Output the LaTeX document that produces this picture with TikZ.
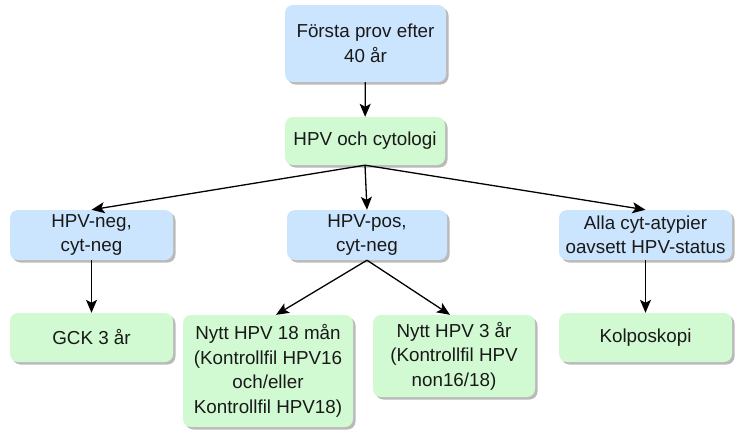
\documentclass[tikz,border=0pt]{standalone}
\usepackage{fontspec}
\setmainfont{Liberation Sans}
\usetikzlibrary{shadows,arrows.meta}
\definecolor{boxblue}{HTML}{CCE5FF}
\definecolor{boxgreen}{HTML}{D2FAD2}
\tikzset{
  box/.style={rounded corners=8pt, align=center, inner sep=2pt,
    font=\fontsize{18.8}{24.5}\selectfont, text=black!90,
    drop shadow={shadow xshift=2.5pt, shadow yshift=-2.5pt, fill=black!45, opacity=0.6}},
  bbox/.style={box, fill=boxblue},
  gbox/.style={box, fill=boxgreen},
  arr/.style={-{Stealth[length=13pt,width=11pt,inset=3pt]}, line width=1.3pt, black},
}
\begin{document}
\begin{tikzpicture}[x=1pt,y=-1pt]
\useasboundingbox (0,0) rectangle (743,445);
\node[bbox, minimum width=161pt, minimum height=77pt] (top) at (365.5,43.5) {Första prov efter\\40 år};
\node[gbox, minimum width=160pt, minimum height=48pt] (hpv) at (365,141) {HPV och cytologi};
\node[bbox, minimum width=163pt, minimum height=50pt] (neg) at (91.5,235) {HPV-neg,\\cyt-neg};
\node[bbox, minimum width=160pt, minimum height=50pt] (pos) at (367,235) {HPV-pos,\\cyt-neg};
\node[bbox, minimum width=173pt, minimum height=50pt] (alla) at (645.5,235) {Alla cyt-atypier\\oavsett HPV-status};
\node[gbox, minimum width=163pt, minimum height=49pt] (gck) at (91.5,337.5) {GCK 3 år};
\node[gbox, minimum width=170pt, minimum height=112pt] (n18) at (268,371) {Nytt HPV 18 mån\\(Kontrollfil HPV16\\och/eller\\Kontrollfil HPV18)};
\node[gbox, minimum width=162pt, minimum height=82pt] (n3) at (454,356) {Nytt HPV 3 år\\(Kontrollfil HPV\\non16/18)};
\node[gbox, minimum width=173pt, minimum height=49pt] (kolp) at (645.5,337.5) {Kolposkopi};
\draw[arr] (top) -- (hpv);
\draw[arr] (hpv.south) -- (neg.north);
\draw[arr] (hpv.south) -- (pos.north);
\draw[arr] (hpv.south) -- (alla.north);
\draw[arr] (neg) -- (gck);
\draw[arr] (alla) -- (kolp);
\draw[arr] (pos.south) -- ([xshift=8pt]n18.north);
\draw[arr] (pos.south) -- ([xshift=-4pt]n3.north);
\end{tikzpicture}
\end{document}
